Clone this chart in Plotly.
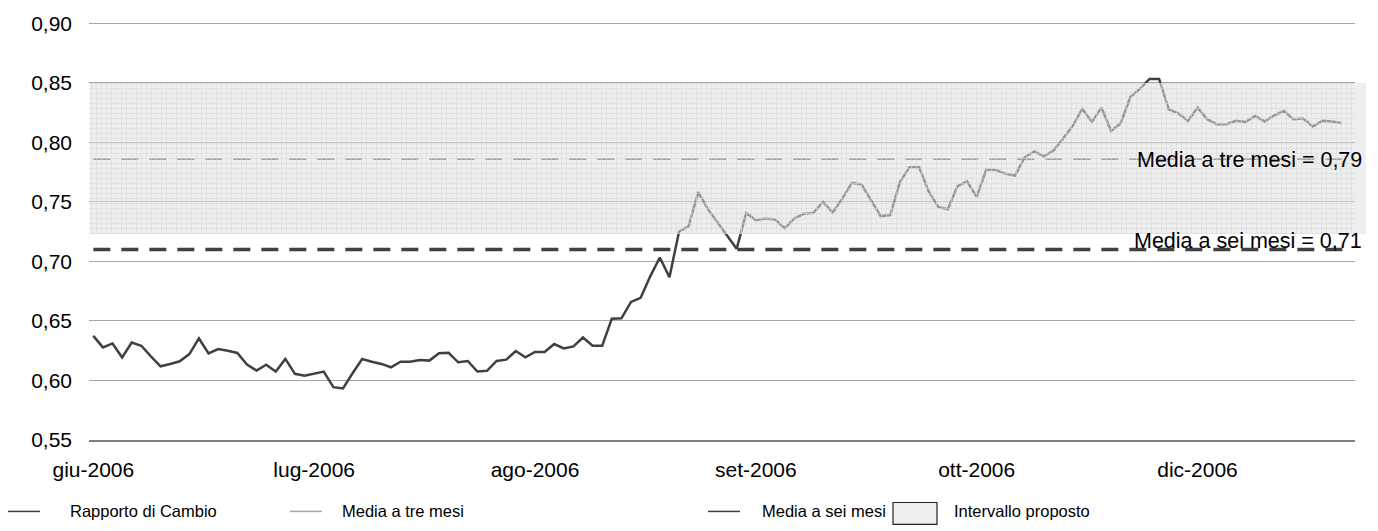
import plotly.graph_objects as go

# ---- data ----
rapporto = [0.6375, 0.6278, 0.6311, 0.6194, 0.6319, 0.6292, 0.6203, 0.6119, 0.6139, 0.6161,
            0.6222, 0.6353, 0.6228, 0.6264, 0.6250, 0.6231, 0.6133, 0.6083, 0.6133, 0.6075,
            0.6181, 0.6056, 0.6039, 0.6056, 0.6075,
            0.5944, 0.5933, 0.6061, 0.6181, 0.6158, 0.6139, 0.6111, 0.6158, 0.6158, 0.6172,
            0.6167, 0.6228, 0.6233, 0.6153, 0.6164, 0.6075, 0.6081, 0.6164, 0.6175, 0.6247,
            0.6194, 0.6239, 0.6239,
            0.6306, 0.6269, 0.6286, 0.6361, 0.6292, 0.6292, 0.6519, 0.6522, 0.6660, 0.6694,
            0.6875, 0.7033, 0.6867, 0.7250, 0.7297, 0.7583, 0.7439, 0.7330, 0.7220, 0.7106,
            0.7408, 0.7347, 0.7361, 0.7353, 0.7278,
            0.7361, 0.7400, 0.7408, 0.7500, 0.7411, 0.7528, 0.7661, 0.7647, 0.7514, 0.7381,
            0.7389, 0.7667, 0.7792, 0.7792, 0.7589, 0.7458, 0.7439, 0.7633, 0.7672, 0.7542,
            0.7772, 0.7769, 0.7736, 0.7722,
            0.7875, 0.7925, 0.7883, 0.7931, 0.8033, 0.8139, 0.8283, 0.8172, 0.8292, 0.8097,
            0.8161, 0.8381, 0.8450, 0.8533, 0.8533, 0.8278, 0.8244, 0.8181, 0.8292, 0.8194,
            0.8153, 0.8153, 0.8181, 0.8172,
            0.8222, 0.8175, 0.8228, 0.8264, 0.8194, 0.8200, 0.8133, 0.8181, 0.8175, 0.8161]
giorni = list(range(len(rapporto)))          # trading-day index (categories)
tick_pos = [0, 23, 46, 69, 92, 115]
tick_labels = ["giu-2006", "lug-2006", "ago-2006", "set-2006", "ott-2006", "dic-2006"]
media_tre_mesi = 0.786
media_sei_mesi = 0.710
intervallo = [0.723, 0.850]
legend_labels = ["Rapporto di Cambio", "Media a tre mesi", "Media a sei mesi", "Intervallo proposto"]

# ---- geometry (page pixels) ----
W, H = 1378, 531
YMIN, YMAX = 0.55, 0.902                 # a little headroom so the 0,90 gridline is drawn
L, R, B = 89, 1355, 440
T = 20 - (YMAX - 0.90) * 1200            # keep 0,90 at y=20
def px(x):
    return (x - L) / (R - L)
def py(y):
    return (B - y) / (B - T)

FONT = "Liberation Sans, Arial, sans-serif"
DARK = "#404040"

fig = go.Figure()
fig.add_trace(go.Scatter(x=giorni, y=rapporto, mode="lines",
                         line=dict(color=DARK, width=2.5), hoverinfo="skip",
                         showlegend=False))
# band texture (drawn above the line)
xmin, xmax = -0.45, 131.4
fig.add_trace(go.Scatter(x=[xmin, xmax, xmax, xmin, xmin],
                         y=[intervallo[0], intervallo[0], intervallo[1], intervallo[1], intervallo[0]],
                         mode="none", fill="toself", fillcolor="rgba(0,0,0,0)",
                         fillpattern=dict(shape="+", fgcolor="#d2d2d2", bgcolor="rgba(0,0,0,0)",
                                          size=5, solidity=0.2, fillmode="replace"),
                         hoverinfo="skip", showlegend=False))

shapes = []
shapes.append(dict(type="line", xref="x", yref="y", x0=0, x1=131.0,
                   y0=media_tre_mesi, y1=media_tre_mesi, layer="below",
                   line=dict(color="#555555", width=2, dash="17px,11px")))
shapes.append(dict(type="line", xref="x", yref="y", x0=0, x1=131.0,
                   y0=media_sei_mesi, y1=media_sei_mesi, layer="above",
                   line=dict(color=DARK, width=3.5, dash="17px,11px")))
# band tint (above traces)
shapes.append(dict(type="rect", xref="paper", yref="y", x0=px(90), x1=px(1366),
                   y0=intervallo[0], y1=intervallo[1], layer="above",
                   line=dict(width=0), fillcolor="rgba(224,224,224,0.55)"))

annotations = [
    dict(text="Media a tre mesi = 0,79", xref="paper", yref="y", x=px(1364), y=media_tre_mesi,
         xanchor="right", yanchor="middle", yshift=-1, showarrow=False,
         font=dict(family=FONT, size=21.5, color="#000")),
    dict(text="Media a sei mesi = 0,71", xref="paper", yref="y", x=px(1364), y=media_sei_mesi,
         xanchor="right", yanchor="bottom", yshift=-5, showarrow=False,
         font=dict(family=FONT, size=21.5, color="#000")),
]

# manual legend
ly = 512
leg_items = [(8, 40, 68, DARK), (290, 322, 340, "#a6a6a6"), (708, 740, 760, DARK)]
for (x0, x1, tx, col), lab in zip(leg_items, legend_labels[:3]):
    shapes.append(dict(type="line", xref="paper", yref="paper", x0=px(x0), x1=px(x1),
                       y0=py(ly), y1=py(ly), line=dict(color=col, width=1.5)))
    annotations.append(dict(text=lab, xref="paper", yref="paper", x=px(tx), y=py(ly),
                            xanchor="left", yanchor="middle", showarrow=False,
                            font=dict(family=FONT, size=16.5, color="#000")))
shapes.append(dict(type="rect", xref="paper", yref="paper", x0=px(893), x1=px(937),
                   y0=py(525), y1=py(503), line=dict(color="#222", width=1.2),
                   fillcolor="#eeeeee"))
annotations.append(dict(text=legend_labels[3], xref="paper", yref="paper", x=px(952), y=py(ly),
                        xanchor="left", yanchor="middle", showarrow=False,
                        font=dict(family=FONT, size=16.5, color="#000")))

fig.update_layout(
    width=W, height=H,
    margin=dict(l=L, r=W - R, t=T, b=H - B, pad=0),
    paper_bgcolor="white", plot_bgcolor="white",
    separators=",.", showlegend=False,
    font=dict(family=FONT, size=21, color="#000"),
    shapes=shapes, annotations=annotations,
    xaxis=dict(range=[xmin, xmax], tickmode="array", tickvals=tick_pos, ticktext=tick_labels,
               showgrid=False, zeroline=False, showline=True, linecolor="#7f7f7f", linewidth=1.5,
               ticks="", ticklabelstandoff=10, tickfont=dict(size=21)),
    yaxis=dict(range=[YMIN, YMAX], dtick=0.05, tick0=0.55, tickformat=".2f",
               showgrid=True, gridcolor="#a6a6a6", gridwidth=1, zeroline=False,
               showline=False, ticks="", ticklabelstandoff=16, tickfont=dict(size=21)),
)

fig.write_html("out.html",
               config={"displayModeBar": False},
               post_script="document.body.style.margin='0';"
                           "document.documentElement.style.overflow='hidden';")
